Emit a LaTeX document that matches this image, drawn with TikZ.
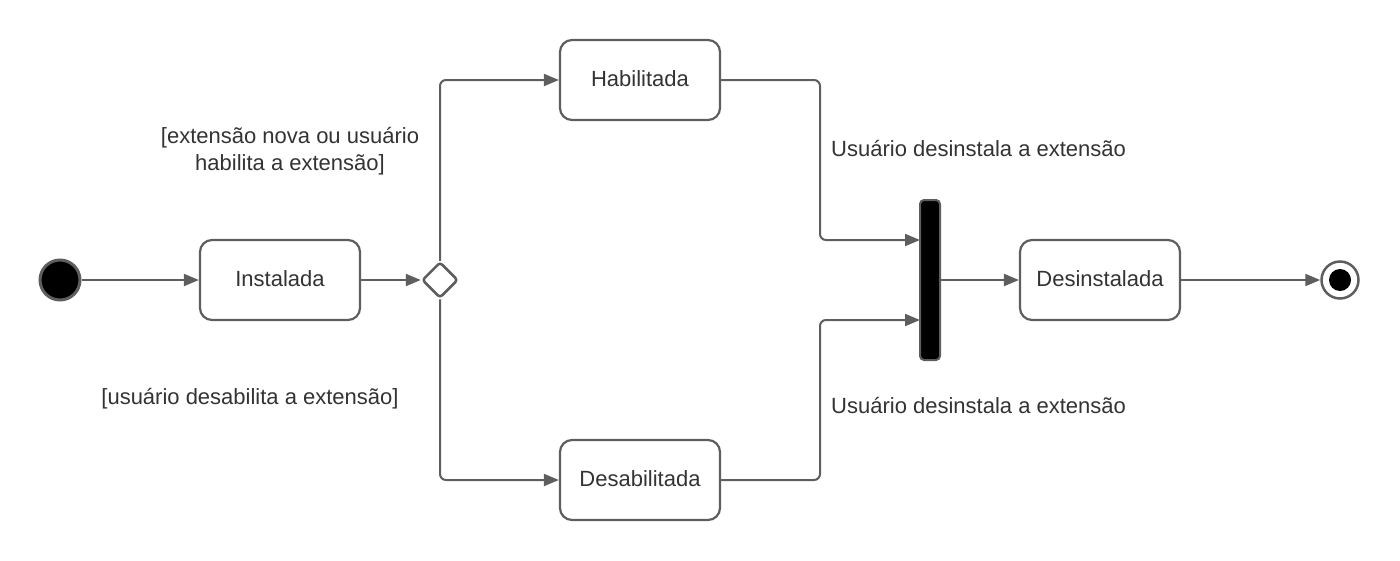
\documentclass[tikz,border=0pt]{standalone}
\usepackage{fontspec}
\setmainfont{Liberation Sans}
\usetikzlibrary{arrows.meta,shapes.geometric}
\definecolor{ln}{HTML}{5E5E5E}
\definecolor{tx}{HTML}{333333}
\tikzset{
  x=1pt,y=-1pt,
  state/.style={draw=ln,line width=2.2pt,rounded corners=12pt,minimum width=160pt,minimum height=80pt,fill=white,text=tx,font=\fontsize{22}{26}\selectfont,inner sep=0pt},
  conn/.style={draw=ln,line width=2pt,-{Triangle[length=15pt,width=12pt]},rounded corners=6pt},
  lbl/.style={text=tx,font=\fontsize{22}{27}\selectfont,inner sep=0pt},
}
\begin{document}
\begin{tikzpicture}
\useasboundingbox (0,0) rectangle (1400,560);
\node[circle,draw=ln,line width=3pt,fill=black,minimum size=40pt,inner sep=0pt] (start) at (60,280) {};
\node[state] (inst) at (280,280) {\raisebox{3pt}{Instalada}};
\node[diamond,draw=ln,line width=2.5pt,fill=white,minimum size=36pt,inner sep=0pt,rounded corners=3pt] (dec) at (440,280) {};
\node[state] (hab) at (640,80) {\raisebox{3pt}{Habilitada}};
\node[state] (des) at (640,480) {\raisebox{3pt}{Desabilitada}};
\node[draw=ln,line width=2pt,fill=black,rounded corners=4pt,minimum width=20pt,minimum height=160pt,inner sep=0pt] (bar) at (930,280) {};
\node[state] (unin) at (1100,280) {\raisebox{3pt}{Desinstalada}};
\node[circle,draw=ln,line width=2.5pt,fill=white,minimum size=37pt,inner sep=0pt] (end) at (1340,280) {};
\node[circle,fill=black,minimum size=22pt,inner sep=0pt] (endin) at (1340,280) {};
\coordinate (b1) at (920,240);
\coordinate (b2) at (920,320);

\draw[conn] (start) -- (inst);
\draw[conn] (inst) -- (dec);
\draw[conn] (dec.north) |- (hab.west);
\draw[conn] (dec.south) |- (des.west);
\draw[conn] (hab.east) -- (820,80) |- (b1);
\draw[conn] (des.east) -- (820,480) |- (b2);
\draw[conn] (bar) -- (unin);
\draw[conn] (unin) -- (end);

\node[lbl,align=center] (l1) at (290,151) {[extensão nova ou usuário\\habilita a extensão]};
\node[lbl] (l2) at (250,399) {[usuário desabilita a extensão]};
\node[lbl,anchor=west] (l3) at (831,149) {Usuário desinstala a extensão};
\node[lbl,anchor=west] (l4) at (831,406) {Usuário desinstala a extensão};
\end{tikzpicture}
\end{document}
